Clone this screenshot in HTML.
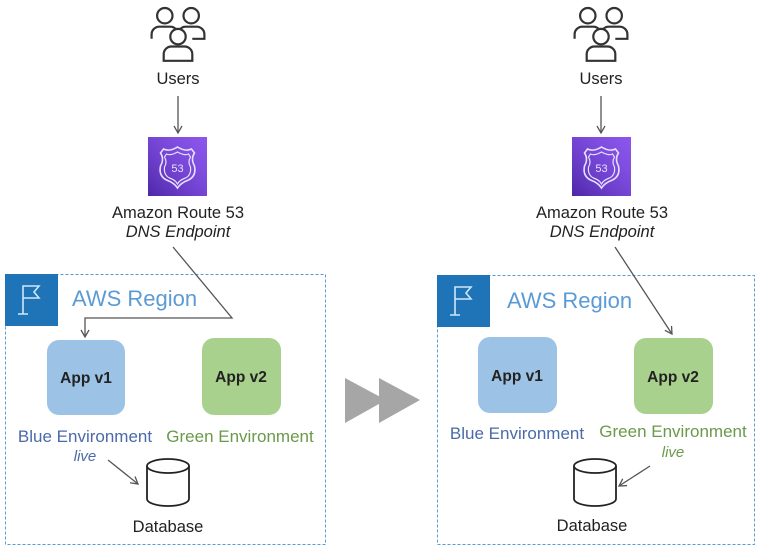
<!DOCTYPE html>
<html><head><meta charset="utf-8"><style>
html,body{margin:0;padding:0;background:#fff;}
svg{display:block;}
text{font-family:"Liberation Sans","DejaVu Sans",sans-serif;}
</style></head><body>
<svg width="761" height="549" viewBox="0 0 761 549" xmlns="http://www.w3.org/2000/svg">
<defs>
<g id="users" fill="none" stroke="#333" stroke-width="2">
  <circle cx="-12" cy="-13" r="7"/>
  <circle cx="12" cy="-13" r="7"/>
  <path d="M-24 8 v-4 a7 7 0 0 1 7 -7 h10 a7 7 0 0 1 7 7 M0 4 a7 7 0 0 1 7 -7 h10 a7 7 0 0 1 7 7 v4 h-11"/>
  <circle cx="0" cy="6" r="7" fill="#fff"/>
  <path d="M-13 28 v-6 a7 7 0 0 1 7 -7 h12 a7 7 0 0 1 7 7 v6 z" fill="#fff"/>
</g>
<g id="r53">
  <rect x="0" y="0" width="59" height="59" fill="#6b3fd4"/>
  <rect x="0" y="0" width="59" height="59" fill="url(#rg)"/>
  <path d="M29.5 10 q8 5 14 2 l3 4 q-4 6 0 13 q2 10 -6 14 q-8 3 -11 8 q-3 -5 -11 -8 q-8 -4 -6 -14 q4 -7 0 -13 l3 -4 q6 3 14 -2z" fill="none" stroke="#e8e0ff" stroke-width="1.6"/>
  <path d="M29.5 15 q7 4 11 2 l2 3 q-3 5 0 10 q1 8 -5 11 q-6 2 -8 6 q-2 -4 -8 -6 q-6 -3 -5 -11 q3 -5 0 -10 l2 -3 q4 2 11 -2z" fill="none" stroke="#e8e0ff" stroke-width="1.2"/>
  <text x="29.5" y="35" font-size="11" fill="#e8e0ff" text-anchor="middle">53</text>
</g>
<linearGradient id="rg" x1="0" y1="1" x2="1" y2="0"><stop offset="0" stop-color="#4d27a8"/><stop offset="1" stop-color="#a166ff" stop-opacity="0.6"/></linearGradient>
<g id="flag">
  <rect x="0" y="0" width="53" height="52" fill="#1f73b7"/>
  <path d="M18 40 V12 h16 l-5 6 l5 6 h-16 M13 40 h10" fill="none" stroke="#cfe6f7" stroke-width="1.6"/>
</g>
<g id="db" fill="#fff" stroke="#222" stroke-width="1.8">
  <path d="M0 8 v33 a21 7 0 0 0 42 0 v-33"/>
  <ellipse cx="21" cy="8" rx="21" ry="7"/>
</g>
<marker id="ah" markerWidth="10" markerHeight="10" refX="8" refY="5" orient="auto" markerUnits="userSpaceOnUse"><path d="M1 1 L8 5 L1 9" fill="none" stroke="#555" stroke-width="1.3"/></marker>
</defs>

<!-- LEFT -->
<use href="#users" transform="translate(178,30) scale(1.1)"/>
<text x="178" y="84" font-size="16.5" text-anchor="middle" fill="#222">Users</text>
<line x1="178" y1="96" x2="178" y2="133" stroke="#555" stroke-width="1.3" marker-end="url(#ah)"/>
<use href="#r53" x="148" y="137"/>
<text x="178" y="218" font-size="16.5" text-anchor="middle" fill="#222">Amazon Route 53</text>
<text x="178" y="237" font-size="16.5" font-style="italic" text-anchor="middle" fill="#222">DNS Endpoint</text>

<rect x="5.5" y="274.5" width="320" height="270" fill="none" stroke="#5b9bd5" stroke-width="1" stroke-dasharray="3,2"/>
<use href="#flag" x="5" y="274"/>
<text x="72" y="306" font-size="22" fill="#5b9bd5">AWS Region</text>
<polyline points="173,247 232,318 85,318 85,337" fill="none" stroke="#555" stroke-width="1.3" marker-end="url(#ah)"/>
<rect x="47" y="340" width="78" height="75" rx="12" fill="#9cc3e6"/>
<text x="86" y="383" font-size="15.5" font-weight="bold" text-anchor="middle" fill="#222">App v1</text>
<rect x="202" y="338" width="79" height="77" rx="12" fill="#a9d18e"/>
<text x="241" y="382" font-size="15.5" font-weight="bold" text-anchor="middle" fill="#222">App v2</text>
<text x="85" y="442" font-size="17" text-anchor="middle" fill="#4a6aa8">Blue Environment</text>
<text x="240" y="442" font-size="17" text-anchor="middle" fill="#6a9a4a">Green Environment</text>
<text x="85" y="461" font-size="15" font-style="italic" text-anchor="middle" fill="#4a6aa8">live</text>
<line x1="108" y1="460" x2="138" y2="484" stroke="#555" stroke-width="1.3" marker-end="url(#ah)"/>
<use href="#db" x="147" y="458"/>
<text x="168" y="532" font-size="16.5" text-anchor="middle" fill="#222">Database</text>

<!-- middle arrow -->
<polygon points="345,378 386,400 345,423" fill="#a6a6a6"/>
<polygon points="379,378 420,400 379,423" fill="#a6a6a6"/>

<!-- RIGHT -->
<use href="#users" transform="translate(601,30) scale(1.1)"/>
<text x="601" y="84" font-size="16.5" text-anchor="middle" fill="#222">Users</text>
<line x1="601" y1="96" x2="601" y2="133" stroke="#555" stroke-width="1.3" marker-end="url(#ah)"/>
<use href="#r53" x="572" y="137"/>
<text x="602" y="218" font-size="16.5" text-anchor="middle" fill="#222">Amazon Route 53</text>
<text x="602" y="237" font-size="16.5" font-style="italic" text-anchor="middle" fill="#222">DNS Endpoint</text>

<rect x="437.5" y="275.5" width="317" height="269" fill="none" stroke="#5b9bd5" stroke-width="1" stroke-dasharray="3,2"/>
<use href="#flag" x="437" y="275"/>
<text x="507" y="308" font-size="22" fill="#5b9bd5">AWS Region</text>
<line x1="615" y1="247" x2="672" y2="334" stroke="#555" stroke-width="1.3" marker-end="url(#ah)"/>
<rect x="478" y="337" width="79" height="76" rx="12" fill="#9cc3e6"/>
<text x="517" y="381" font-size="15.5" font-weight="bold" text-anchor="middle" fill="#222">App v1</text>
<rect x="634" y="338" width="79" height="76" rx="12" fill="#a9d18e"/>
<text x="673" y="382" font-size="15.5" font-weight="bold" text-anchor="middle" fill="#222">App v2</text>
<text x="517" y="439" font-size="17" text-anchor="middle" fill="#4a6aa8">Blue Environment</text>
<text x="673" y="437" font-size="17" text-anchor="middle" fill="#6a9a4a">Green Environment</text>
<text x="673" y="457" font-size="15" font-style="italic" text-anchor="middle" fill="#6a9a4a">live</text>
<line x1="650" y1="466" x2="619" y2="486" stroke="#555" stroke-width="1.3" marker-end="url(#ah)"/>
<use href="#db" x="574" y="458"/>
<text x="592" y="531" font-size="16.5" text-anchor="middle" fill="#222">Database</text>
</svg>
</body></html>
